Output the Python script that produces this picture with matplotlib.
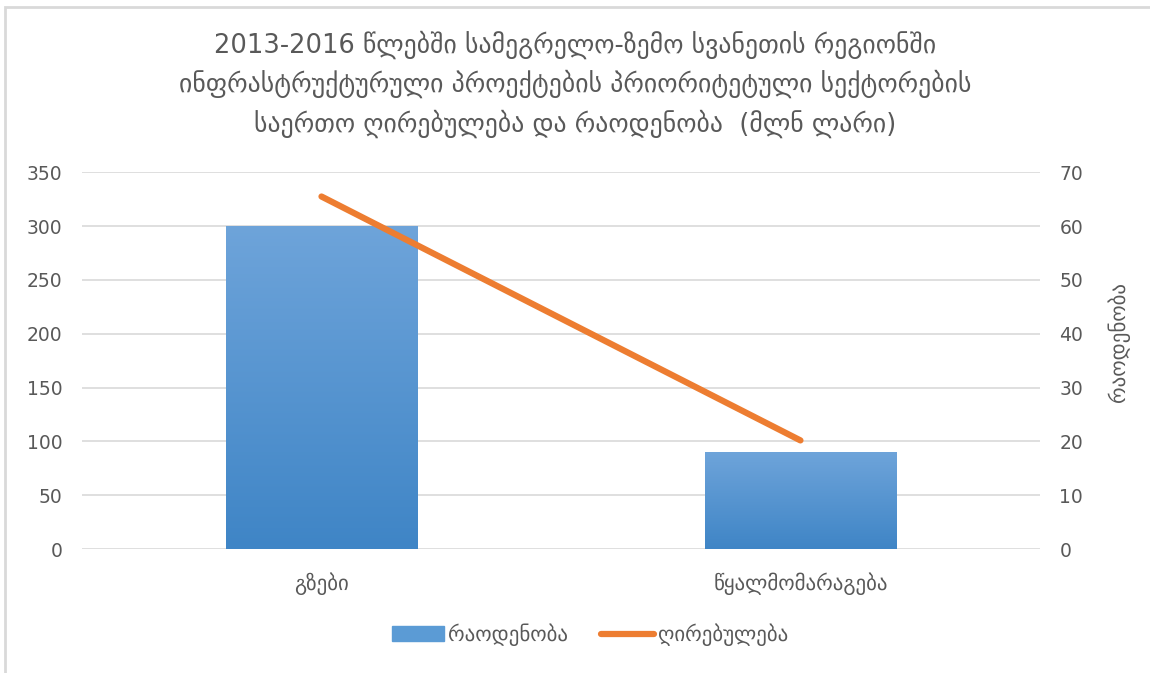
import numpy as np
import matplotlib.pyplot as plt
from matplotlib.patches import Rectangle
from matplotlib.lines import Line2D
from matplotlib.colors import LinearSegmentedColormap

# ── Data ──────────────────────────────────────────────────────────────────────
categories = ['გზები', 'წყალმომარაგება']
raodenoba = [300, 90]        # bars, left axis
ghirebuleba = [65.5, 20.2]   # line, right axis

title = ('2013-2016 წლებში სამეგრელო-ზემო სვანეთის რეგიონში\n'
         'ინფრასტრუქტურული პროექტების პრიორიტეტული სექტორების\n'
         'საერთო ღირებულება და რაოდენობა  (მლნ ლარი)')

plt.rcParams['font.family'] = ['DejaVu Sans']
txt = '#595959'
grid_c = '#D9D9D9'

fig = plt.figure(figsize=(11.5, 6.73), dpi=100, facecolor='white')
ax = fig.add_axes([0.0713, 0.184, 0.833, 0.560])
ax2 = ax.twinx()

x = np.arange(len(categories))
bw = 0.4
bars = ax.bar(x, raodenoba, width=bw, color='#5B9BD5', zorder=2)

# vertical gradient inside each bar
grad = np.linspace(0, 1, 256).reshape(-1, 1)
cmap = LinearSegmentedColormap.from_list('g', ['#3F85C6', '#6EA4DA'])
for b in bars:
    x0, w, h = b.get_x(), b.get_width(), b.get_height()
    im = ax.imshow(grad, extent=[x0, x0 + w, 0, h], origin='lower',
                   cmap=cmap, aspect='auto', zorder=2.1)
    im.set_clip_path(b)

ax.set_xlim(-0.5, 1.5)
ax.set_ylim(0, 350)
ax.set_yticks(range(0, 351, 50))
ax.grid(axis='y', color=grid_c, linewidth=1.2, zorder=0)
ax.set_axisbelow(True)
ax.set_xticks(x)
ax.set_xticklabels(categories, fontsize=15, color=txt)

ax2.plot(x, ghirebuleba, color='#ED7D31', linewidth=4.5,
         solid_capstyle='round', zorder=3)
ax2.set_ylim(0, 70)
ax2.set_yticks(range(0, 71, 10))
ax2.set_ylabel('რაოდენობა', fontsize=15, color=txt, rotation=90)
ax2.yaxis.set_label_coords(1.07, 0.55)

for a in (ax, ax2):
    for s in a.spines.values():
        s.set_visible(False)
    a.tick_params(length=0, labelsize=13.5, labelcolor=txt)
ax.tick_params(axis='y', pad=14)
ax.tick_params(axis='x', labelsize=15, pad=17)
ax2.tick_params(axis='y', pad=14)
ax.set_zorder(ax2.get_zorder() - 1)
ax2.patch.set_visible(False)

fig.suptitle(title, fontsize=18.5, color=txt, y=0.955, linespacing=1.5)

handles = [Rectangle((0, 0), 1, 1, color='#5B9BD5'),
           Line2D([0], [0], color='#ED7D31', linewidth=4.5, solid_capstyle='round')]
fig.legend(handles, ['რაოდენობა', 'ღირებულება'], loc='center',
           bbox_to_anchor=(0.513, 0.057), ncol=2, frameon=False,
           fontsize=15, labelcolor=txt, handlelength=2.5, columnspacing=1.6,
           handletextpad=0.2)

# light frame around the chart
fig.patches.append(Rectangle((0.004, -0.01), 1.2, 1.0, transform=fig.transFigure,
                             fill=False, edgecolor='#D9D9D9', linewidth=2))

plt.savefig('out.png', dpi=100, facecolor='white')
